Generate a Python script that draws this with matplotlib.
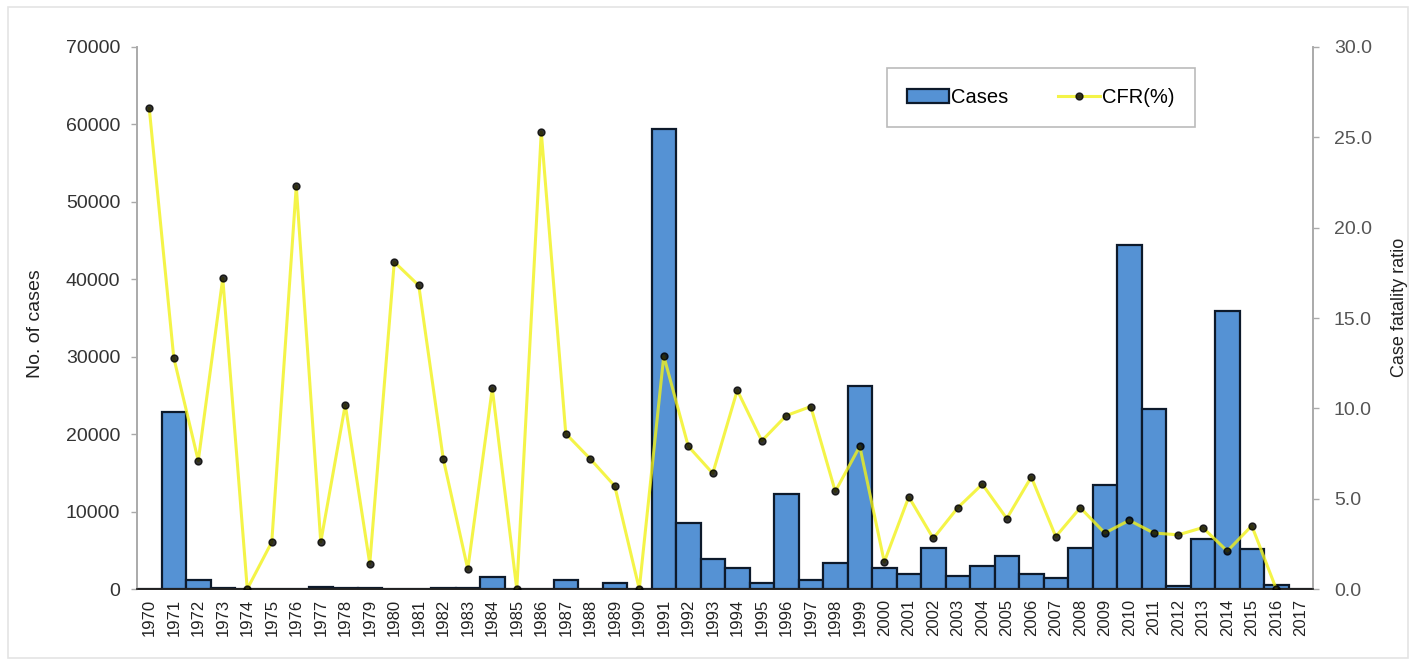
import numpy as np
import matplotlib.pyplot as plt
from matplotlib.patches import Rectangle

plt.rcParams["font.family"] = ["Liberation Sans", "DejaVu Sans"]

years = list(range(1970, 2018))
cases = [
    0, 22900, 1200, 80, 0, 0, 0, 300, 150, 150,
    50, 50, 150, 150, 1500, 0, 30, 1200, 0, 800,
    0, 59400, 8560, 3900, 2670, 760, 12270, 1150, 3330, 26170,
    2670, 2000, 5300, 1740, 3000, 4300, 2000, 1360, 5300, 13470,
    44400, 23300, 400, 6400, 35900, 5200, 500, 50,
]
cfr = [
    26.6, 12.8, 7.1, 17.2, 0.0, 2.6, 22.3, 2.6, 10.2, 1.4,
    18.1, 16.8, 7.2, 1.1, 11.1, 0.0, 25.3, 8.6, 7.2, 5.7,
    0.0, 12.9, 7.9, 6.4, 11.0, 8.2, 9.6, 10.1, 5.4, 7.9,
    1.5, 5.1, 2.8, 4.5, 5.8, 3.9, 6.2, 2.9, 4.5, 3.1,
    3.8, 3.1, 3.0, 3.4, 2.1, 3.5, 0.0, np.nan,
]

x = np.arange(len(years))

fig = plt.figure(figsize=(14.14, 6.61), dpi=100)
fig.patches.append(Rectangle((0.006, 0.004), 0.99, 0.985, transform=fig.transFigure,
                             fill=False, edgecolor="#e4e4e4", lw=1.2, zorder=-5))
ax = fig.add_axes([0.0969, 0.1089, 0.8317, 0.82])
ax2 = ax.twinx()

ax.bar(x, cases, width=1.0, color="#5592d4", edgecolor="#0d1a2b", linewidth=1.6,
       label="Cases", zorder=2)
ax.set_xlim(-0.5, len(years) - 0.5)
ax.set_ylim(0, 70000)
ax.set_yticks(np.arange(0, 70001, 10000))
ax.set_xticks(x)
ax.set_xticklabels([str(y) for y in years], rotation=90, fontsize=12, color="#222222")
ax.tick_params(axis="x", length=0, pad=7)
ax.tick_params(axis="y", labelsize=14, colors="#333333", length=4, width=1, color="#aaaaaa", pad=8)
ax.set_ylabel("No. of cases", fontsize=14, color="#222222")
ax.yaxis.set_label_coords(-0.079, 0.49)

line, = ax2.plot(x, cfr, color="#f2f21a", lw=2.2, alpha=0.8, marker="o",
                 markersize=5, markerfacecolor="black", markeredgecolor="black",
                 label="CFR(%)", zorder=3)
ax2.set_ylim(0, 30)
ax2.set_yticks(np.arange(0, 30.1, 5))
ax2.set_yticklabels([f"{v:.1f}" for v in np.arange(0, 30.1, 5)])
ax2.tick_params(axis="y", labelsize=14, colors="#555555", length=4, width=1, color="#aaaaaa", pad=11)
ax2.set_ylabel("Case fatality ratio", fontsize=13, color="#222222")
ax2.yaxis.set_label_coords(1.066, 0.52)

for a in (ax, ax2):
    a.spines["top"].set_visible(False)
    a.spines["left"].set_color("#aaaaaa")
    a.spines["right"].set_color("#aaaaaa")
    a.spines["left"].set_linewidth(1.2)
    a.spines["right"].set_linewidth(1.2)
    a.spines["bottom"].set_color("#222222")
    a.spines["bottom"].set_linewidth(1.2)

handles = [ax.patches[0], line]
leg = ax2.legend(handles, ["Cases", "CFR(%)"], ncol=2, loc="upper left",
                 bbox_to_anchor=(0.629, 0.865, 0.279, 0.115), mode="expand",
                 fancybox=False, framealpha=1, edgecolor="#bbbbbb", fontsize=14.5,
                 handlelength=2.1, handletextpad=0.1, borderpad=1.0, columnspacing=1.9)
leg.get_frame().set_linewidth(1.2)

fig.savefig("out.png", dpi=100)
